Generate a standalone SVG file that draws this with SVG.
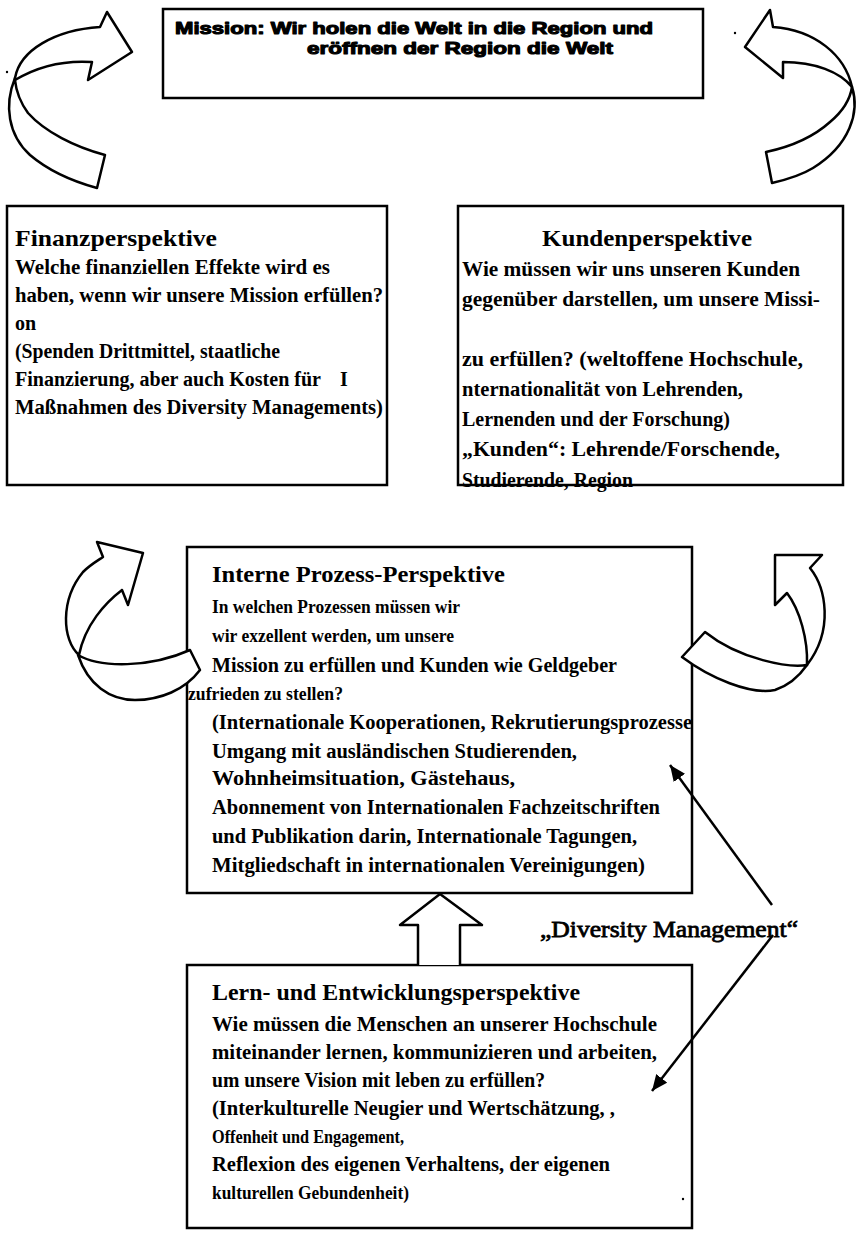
<svg xmlns="http://www.w3.org/2000/svg" width="863" height="1246" viewBox="0 0 863 1246">
  <style>
    .box { fill: #fff; stroke: #000; stroke-width: 2.5; }
    .t { font-family: "Liberation Serif", "Times New Roman", serif; font-weight: bold; font-size: 20px; fill: #000; }
    .h { font-size: 23px; }
    .s { font-size: 18px; }
    .m { font-family: "Liberation Sans", Arial, sans-serif; font-weight: bold; font-size: 17px; fill: #000; stroke: #000; stroke-width: 1.1; stroke-linejoin: round; }
    .lbl { font-family: "Liberation Serif", "Times New Roman", serif; font-size: 24px; fill: #000; stroke: #000; stroke-width: 0.8; }
    .ribbon { fill: #fff; stroke: #000; stroke-width: 2.5; stroke-linejoin: round; }
    .link { fill: none; stroke: #000; stroke-width: 2.5; }
    .speck { fill: #000; }
  </style>
  <defs>
    <marker id="head" markerUnits="userSpaceOnUse" markerWidth="18" markerHeight="14" refX="16" refY="7" orient="auto">
      <path d="M0,0 L16,7 L0,14 Z" fill="#000"/>
    </marker>
  </defs>
  <rect width="863" height="1246" fill="#fff"/>

  <!-- curved arrows beside the mission -->
  <g id="loop-top-left">
    <path class="ribbon" d="M15 78 C4 105 8 135 30 155 C50 172 75 182 97 188 L105 155 C75 147 45 132 28 113 C20 102 16 90 15 80 Z"/>
    <path class="ribbon" d="M15 78 C20 50 55 30 100 27 L107 12 L132 52 L88 80 L92 62 C62 60 35 68 15 80 Z"/>
  </g>
  <g id="loop-top-right">
    <path class="ribbon" d="M852 87 C860 112 850 145 813 168 C800 176 785 180 772 183 L766 152 C785 148 810 140 830 122 C842 112 850 100 852 87 Z"/>
    <path class="ribbon" d="M852 87 C845 55 815 30 773 27 L770 10 L745 47 L783 78 L783 62 C815 62 840 72 852 87 Z"/>
  </g>

  <g id="mission">
    <rect class="box" x="163" y="9" width="540" height="89"/>
    <text class="m" x="175" y="34" textLength="478" lengthAdjust="spacingAndGlyphs">Mission: Wir holen die Welt in die Region und</text>
    <text class="m" x="307" y="54" textLength="306" lengthAdjust="spacingAndGlyphs">eröffnen der Region die Welt</text>
  </g>

  <g id="finanz">
    <rect class="box" x="7" y="206" width="380" height="279"/>
    <text class="t h" x="15" y="246" textLength="202" lengthAdjust="spacingAndGlyphs">Finanzperspektive</text>
    <text class="t" x="15" y="274" textLength="315" lengthAdjust="spacingAndGlyphs">Welche finanziellen Effekte wird es</text>
    <text class="t" x="15" y="302" textLength="368" lengthAdjust="spacingAndGlyphs">haben, wenn wir unsere Mission erfüllen?</text>
    <text class="t" x="15" y="330">on</text>
    <text class="t" x="15" y="358" textLength="265" lengthAdjust="spacingAndGlyphs">(Spenden Drittmittel, staatliche</text>
    <text class="t" x="15" y="386" textLength="306" lengthAdjust="spacingAndGlyphs">Finanzierung, aber auch Kosten für</text>
    <text class="t" x="340" y="386">I</text>
    <text class="t" x="15" y="414" textLength="368" lengthAdjust="spacingAndGlyphs">Maßnahmen des Diversity Managements)</text>
  </g>

  <g id="kunden">
    <rect class="box" x="458" y="206" width="385" height="279"/>
    <text class="t h" x="542" y="246" textLength="210" lengthAdjust="spacingAndGlyphs">Kundenperspektive</text>
    <text class="t" x="462" y="276" textLength="338" lengthAdjust="spacingAndGlyphs">Wie müssen wir uns unseren Kunden</text>
    <text class="t" x="462" y="306" textLength="358" lengthAdjust="spacingAndGlyphs">gegenüber darstellen, um unsere Missi-</text>
    <text class="t" x="462" y="366" textLength="341" lengthAdjust="spacingAndGlyphs">zu erfüllen? (weltoffene Hochschule,</text>
    <text class="t" x="462" y="396" textLength="281" lengthAdjust="spacingAndGlyphs">nternationalität von Lehrenden,</text>
    <text class="t" x="462" y="426" textLength="268" lengthAdjust="spacingAndGlyphs">Lernenden und der Forschung)</text>
    <text class="t" x="462" y="456" textLength="318" lengthAdjust="spacingAndGlyphs">„Kunden“: Lehrende/Forschende,</text>
    <text class="t" x="462" y="487" textLength="171" lengthAdjust="spacingAndGlyphs">Studierende, Region</text>
  </g>

  <g id="prozess">
    <rect class="box" x="187" y="547" width="505" height="346"/>
    <text class="t h" x="212" y="582" textLength="293" lengthAdjust="spacingAndGlyphs">Interne Prozess-Perspektive</text>
    <text class="t s" x="212" y="613" textLength="248" lengthAdjust="spacingAndGlyphs">In welchen Prozessen müssen wir</text>
    <text class="t s" x="212" y="642" textLength="242" lengthAdjust="spacingAndGlyphs">wir exzellent werden, um unsere</text>
    <text class="t" x="212" y="672" textLength="405" lengthAdjust="spacingAndGlyphs">Mission zu erfüllen und Kunden wie Geldgeber</text>
    <text class="t s" x="188" y="700" textLength="155" lengthAdjust="spacingAndGlyphs">zufrieden zu stellen?</text>
    <text class="t" x="212" y="729" textLength="480" lengthAdjust="spacingAndGlyphs">(Internationale Kooperationen, Rekrutierungsprozesse</text>
    <text class="t" x="212" y="758" textLength="365" lengthAdjust="spacingAndGlyphs">Umgang mit ausländischen Studierenden,</text>
    <text class="t" x="212" y="785" textLength="303" lengthAdjust="spacingAndGlyphs">Wohnheimsituation, Gästehaus,</text>
    <text class="t" x="212" y="814" textLength="448" lengthAdjust="spacingAndGlyphs">Abonnement von Internationalen Fachzeitschriften</text>
    <text class="t" x="212" y="843" textLength="425" lengthAdjust="spacingAndGlyphs">und Publikation darin, Internationale Tagungen,</text>
    <text class="t" x="212" y="872" textLength="433" lengthAdjust="spacingAndGlyphs">Mitgliedschaft in internationalen Vereinigungen)</text>
  </g>

  <g id="lernen">
    <rect class="box" x="187" y="965" width="505" height="263"/>
    <text class="t h" x="212" y="1000" textLength="368" lengthAdjust="spacingAndGlyphs">Lern- und Entwicklungsperspektive</text>
    <text class="t" x="212" y="1031" textLength="445" lengthAdjust="spacingAndGlyphs">Wie müssen die Menschen an unserer Hochschule</text>
    <text class="t" x="212" y="1059" textLength="445" lengthAdjust="spacingAndGlyphs">miteinander lernen, kommunizieren und arbeiten,</text>
    <text class="t" x="212" y="1087" textLength="333" lengthAdjust="spacingAndGlyphs">um unsere Vision mit leben zu erfüllen?</text>
    <text class="t" x="212" y="1115" textLength="403" lengthAdjust="spacingAndGlyphs">(Interkulturelle Neugier und Wertschätzung, ,</text>
    <text class="t s" x="212" y="1143" textLength="192" lengthAdjust="spacingAndGlyphs">Offenheit und Engagement,</text>
    <text class="t" x="212" y="1171" textLength="398" lengthAdjust="spacingAndGlyphs">Reflexion des eigenen Verhaltens, der eigenen</text>
    <text class="t s" x="212" y="1199" textLength="197" lengthAdjust="spacingAndGlyphs">kulturellen Gebundenheit)</text>
  </g>

  <g id="connectors">
    <!-- curved arrows beside the process box, laid over its border -->
    <path class="ribbon" d="M78 655 C100 668 150 668 190 650 L200 670 C185 690 160 700 135 700 C110 700 88 685 78 655 Z"/>
    <path class="ribbon" d="M79 655 C62 640 60 600 83 572 C90 565 97 561 103 557 L97 542 L143 553 L128 605 L122 590 C105 603 85 625 79 655 Z"/>
    <path class="ribbon" d="M807 665 C790 668 740 660 705 632 L682 657 C710 678 750 695 775 690 C790 685 800 675 807 665 Z"/>
    <path class="ribbon" d="M810 568 C826 588 834 630 807 665 C808 640 800 610 787 593 L775 605 L775 555 L822 555 Z"/>
    <!-- hollow block arrow from learning to process -->
    <path class="ribbon" d="M418 965 L418 925 L400 925 L440 894 L482 925 L460 925 L460 965"/>
    <!-- diversity pointers -->
    <line class="link" x1="772" y1="905" x2="670" y2="765" marker-end="url(#head)"/>
    <line class="link" x1="773" y1="935" x2="652" y2="1091" marker-end="url(#head)"/>
  </g>

  <g id="diversity">
    <text class="lbl" x="540" y="937" textLength="258" lengthAdjust="spacingAndGlyphs">„Diversity Management“</text>
  </g>

  <circle class="speck" cx="7" cy="72" r="1.2"/>
  <circle class="speck" cx="735" cy="33" r="1.2"/>
  <circle class="speck" cx="683" cy="1199" r="1.2"/>
</svg>
